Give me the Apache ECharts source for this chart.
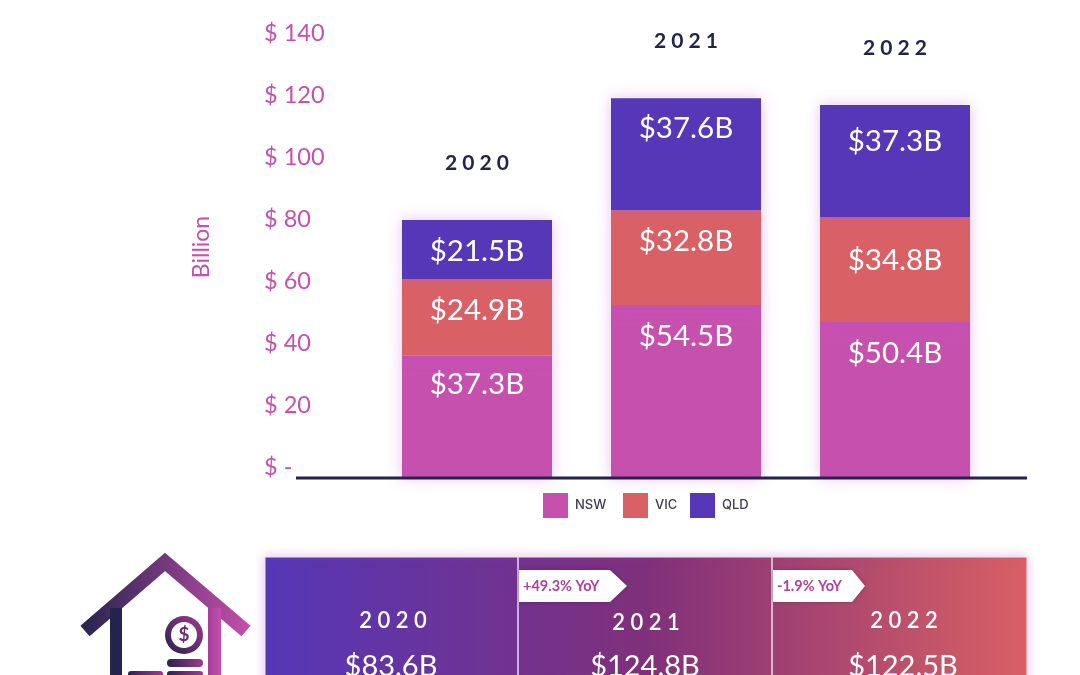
<!DOCTYPE html>
<html><head><meta charset="utf-8">
<style>html,body{margin:0;padding:0;background:#fff}#c{width:1080px;height:675px}</style>
<script src="https://cdn.jsdelivr.net/npm/echarts@6/dist/echarts.min.js"></script>
</head><body><div id="c"></div>
<script>
const years = ['2020','2021','2022'];
const nsw = [39.4,55.8,50.3];
const vic = [24.8,30.6,33.9];
const qld = [19.0,36.1,36.1];
const barTops = [83.2,122.5,120.3];
// values printed on the bars
const nswText = ['$37.3B','$54.5B','$50.4B'];
const vicText = ['$24.9B','$32.8B','$34.8B'];
const qldText = ['$21.5B','$37.6B','$37.3B'];
const tickLabels = {0:'$ -',20:'$ 20',40:'$ 40',60:'$ 60',80:'$ 80',100:'$ 100',120:'$ 120',140:'$ 140'};
const panelYears = ['2020','2021','2022'];
const panelTotals = ['$83.6B','$124.8B','$122.5B'];
const panelYoY = ['', '+49.3% YoY', '-1.9% YoY'];

const NSW='#c650ae',VIC='#d96064',QLD='#5537b8',NAVY='#23234d',FONT='Lato';
const spaced = s => s.split('').join(' ');
const seg = (name,data,text,color,offs) => ({
  name,type:'bar',stack:'t',barWidth:150,
  itemStyle:{color,shadowBlur:14,shadowColor:'rgba(190,80,210,.35)'},
  data:data.map((v,i)=>({value:v,label:{offset:[0,offs[i]]}})),
  label:{show:true,position:'insideTop',distance:0,color:'#fff',fontFamily:FONT,fontSize:29.5,
    formatter:p=>text[p.dataIndex]}
});
const panelTop=557,panelBottom=720;
const panelGfx=[];
panelGfx.push({type:'rect',shape:{x:265,y:panelTop,width:762,height:panelBottom-panelTop},
  style:{fill:{type:'linear',x:0,y:0,x2:1,y2:0,colorStops:[{offset:0,color:QLD},{offset:.5,color:'#80307a'},{offset:1,color:VIC}]},
  stroke:'#f3e4f3',lineWidth:1,shadowBlur:10,shadowColor:'rgba(190,80,210,.35)'}});
[518,772].forEach(x=>panelGfx.push({type:'line',shape:{x1:x,y1:panelTop,x2:x,y2:panelBottom},style:{stroke:'#eadcec',lineWidth:1.5}}));
const yearY=[621,623,621],yearX=[393,646,904],valX=[391,645,903];
panelYears.forEach((y,i)=>{
  panelGfx.push({type:'text',x:yearX[i],y:yearY[i],style:{text:spaced(y),fill:'#fff',font:'600 22px '+FONT,textAlign:'center',textVerticalAlign:'middle'}});
  panelGfx.push({type:'text',x:valX[i],y:667,style:{text:panelTotals[i],fill:'#fff',font:'29px '+FONT,textAlign:'center',textVerticalAlign:'middle'}});
});
[[519,610,627,1],[773,852,865,2]].forEach(([a,b,c,i])=>{
  panelGfx.push({type:'polygon',shape:{points:[[a,570],[b,570],[c,586],[b,602],[a,602]]},style:{fill:'#fff',shadowBlur:4,shadowColor:'rgba(0,0,0,.25)'}});
  panelGfx.push({type:'text',x:a+4,y:586,style:{text:panelYoY[i],fill:'#b0409f',font:'bold 14.5px '+FONT,textAlign:'left',textVerticalAlign:'middle'}});
});
// house icon
const roofGrad={type:'linear',x:0,y:0,x2:1,y2:0,colorStops:[{offset:0,color:NAVY},{offset:1,color:NSW}]};
const coinGrad={type:'linear',x:0,y:1,x2:1,y2:0,colorStops:[{offset:0,color:NAVY},{offset:1,color:'#a5398f'}]};
const wallGrad={type:'linear',x:0,y:0,x2:1,y2:0,colorStops:[{offset:0,color:'#a23d98'},{offset:1,color:NSW}]};
const house=[
 {type:'polyline',shape:{points:[[85,631],[165,562],[246,631]]},style:{stroke:roofGrad,lineWidth:14,fill:'none',lineCap:'butt',lineJoin:'miter'}},
 {type:'rect',shape:{x:110,y:608,width:12,height:80},style:{fill:NAVY}},
 {type:'rect',shape:{x:208,y:608,width:13,height:80},style:{fill:wallGrad}},
 {type:'circle',shape:{cx:184,cy:635,r:19},style:{fill:coinGrad}},
 {type:'circle',shape:{cx:184,cy:635,r:13},style:{fill:'#fff'}},
 {type:'text',x:184,y:635,style:{text:'$',fill:'#6b2a73',font:'bold 19px '+FONT,textAlign:'center',textVerticalAlign:'middle'}},
 {type:'rect',shape:{x:167,y:659,width:36,height:8,r:4},style:{fill:coinGrad}},
 {type:'rect',shape:{x:167,y:671,width:36,height:10,r:3},style:{fill:coinGrad}},
 {type:'rect',shape:{x:128,y:671,width:35,height:10,r:3},style:{fill:coinGrad}}
];
const leg=(name,left)=>({data:[name],left,top:493,padding:0,itemWidth:25,itemHeight:25,icon:'rect',itemGap:0,
    selectedMode:false,textStyle:{color:'#3d3d4d',fontSize:13,fontWeight:500,fontFamily:'Inter',padding:[0,0,0,2]}});
const chart=echarts.init(document.getElementById('c'),null,{renderer:'canvas'});
chart.setOption({
  animation:false,backgroundColor:'#fff',
  grid:{left:372.5,right:80.5,top:44,bottom:197,containLabel:false},
  legend:[leg('NSW',543),leg('VIC',623),leg('QLD',690)],
  xAxis:{type:'category',data:years,axisLine:{show:false},axisTick:{show:false},axisLabel:{show:false}},
  yAxis:{type:'value',min:0,max:140,interval:20,splitLine:{show:false},axisLine:{show:false},axisTick:{show:false},
    name:'Billion',nameLocation:'middle',nameGap:159,nameRotate:90,
    nameTextStyle:{color:NSW,fontSize:23,fontFamily:FONT,padding:[0,0,0,28]},
    axisLabel:{align:'left',margin:108.5,color:NSW,fontSize:23.5,fontFamily:FONT,verticalAlign:'bottom',lineHeight:22,
      formatter:v=>tickLabels[v]}},
  series:[
    seg('NSW',nsw,nswText,NSW,[14,16,16]),
    seg('VIC',vic,vicText,VIC,[17,16,29]),
    seg('QLD',qld,qldText,QLD,[16,15,21]),
    {name:'year',type:'scatter',data:barTops,symbolSize:1,itemStyle:{color:'rgba(0,0,0,0)',opacity:1},z:5,silent:true,
      label:{show:true,position:'top',distance:46,color:NAVY,fontFamily:FONT,fontWeight:'bold',fontSize:21,
        formatter:p=>spaced(years[p.dataIndex])}}
  ],
  graphic:[
    {type:'line',z:10,shape:{x1:296,y1:478,x2:1027,y2:478},style:{stroke:NAVY,lineWidth:3}},
    ...panelGfx,...house
  ]
});
</script></body></html>
